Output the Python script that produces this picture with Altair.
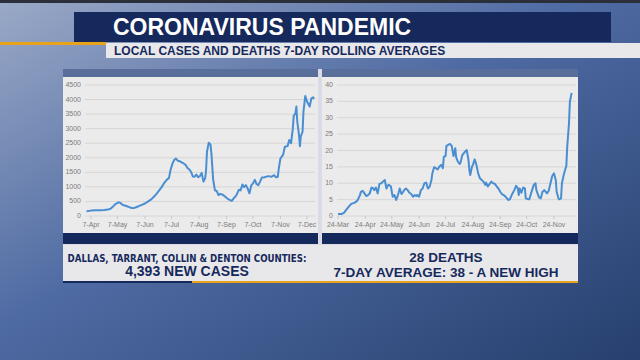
import altair as alt
import pandas as pd

# ---------------- data ----------------
case_dates = [
    "2020-04-02", "2020-04-07", "2020-04-12", "2020-04-17", "2020-04-22", "2020-04-26", "2020-04-29",
    "2020-05-02", "2020-05-05", "2020-05-08", "2020-05-10", "2020-05-13", "2020-05-16", "2020-05-19",
    "2020-05-22", "2020-05-25", "2020-05-28", "2020-05-31", "2020-06-04", "2020-06-07", "2020-06-11",
    "2020-06-14", "2020-06-17", "2020-06-20", "2020-06-23", "2020-06-26", "2020-06-29", "2020-07-02",
    "2020-07-04", "2020-07-06", "2020-07-08", "2020-07-10", "2020-07-12", "2020-07-14", "2020-07-17",
    "2020-07-20", "2020-07-23", "2020-07-25", "2020-07-27", "2020-07-29", "2020-07-31", "2020-08-02",
    "2020-08-04", "2020-08-06", "2020-08-08", "2020-08-10", "2020-08-12", "2020-08-14", "2020-08-15",
    "2020-08-16", "2020-08-18", "2020-08-20", "2020-08-21", "2020-08-23", "2020-08-25", "2020-08-27",
    "2020-08-29", "2020-08-31", "2020-09-02", "2020-09-05", "2020-09-08", "2020-09-10", "2020-09-13",
    "2020-09-15", "2020-09-18", "2020-09-21", "2020-09-23", "2020-09-25", "2020-09-27", "2020-09-29",
    "2020-10-01", "2020-10-03", "2020-10-05", "2020-10-07", "2020-10-09", "2020-10-11", "2020-10-13",
    "2020-10-15", "2020-10-17", "2020-10-20", "2020-10-24", "2020-10-28", "2020-10-31", "2020-11-02",
    "2020-11-04", "2020-11-05", "2020-11-07", "2020-11-10", "2020-11-12", "2020-11-15", "2020-11-17",
    "2020-11-19", "2020-11-21", "2020-11-22", "2020-11-24", "2020-11-25", "2020-11-26", "2020-11-28",
    "2020-11-29", "2020-11-30", "2020-12-02", "2020-12-03", "2020-12-05", "2020-12-07", "2020-12-10",
    "2020-12-12", "2020-12-14", "2020-12-15",
]
case_values = [
    160, 185, 195, 200, 205, 220, 250,
    330, 420, 470, 450, 380, 350, 320,
    280, 270, 300, 340, 390, 430, 510,
    570, 660, 760, 880, 1000, 1150, 1260,
    1300, 1600, 1800, 1930, 1970, 1900, 1870,
    1820, 1750, 1650, 1600, 1520, 1360, 1350,
    1420, 1330, 1370, 1480, 1180, 1300, 1580,
    2200, 2520, 2450, 2150, 1250, 880, 860,
    720, 760, 740, 680, 600, 560, 520,
    600, 700, 900, 880, 1080, 990, 1060,
    940, 780, 1050, 1120, 1240, 1100, 1060,
    1180, 1320, 1330, 1370, 1350, 1400, 1330,
    1340, 1600, 1980, 2100, 2380, 2400, 2610,
    2500, 3010, 3440, 3530, 3760, 3240, 2780,
    2400, 2730, 2900, 3580, 4120, 3930, 3760,
    4040, 4080, 4030,
]

death_dates = [
    "2020-03-24", "2020-03-28", "2020-03-31", "2020-04-02", "2020-04-05", "2020-04-08", "2020-04-12",
    "2020-04-15", "2020-04-18", "2020-04-19", "2020-04-21", "2020-04-23", "2020-04-25", "2020-04-27",
    "2020-04-29", "2020-05-01", "2020-05-03", "2020-05-04", "2020-05-06", "2020-05-08", "2020-05-10",
    "2020-05-12", "2020-05-14", "2020-05-16", "2020-05-18", "2020-05-20", "2020-05-21", "2020-05-23",
    "2020-05-25", "2020-05-27", "2020-05-29", "2020-05-31", "2020-06-02", "2020-06-04", "2020-06-06",
    "2020-06-07", "2020-06-09", "2020-06-11", "2020-06-13", "2020-06-15", "2020-06-17", "2020-06-19",
    "2020-06-21", "2020-06-22", "2020-06-24", "2020-06-26", "2020-06-28", "2020-06-30", "2020-07-02",
    "2020-07-04", "2020-07-06", "2020-07-08", "2020-07-09", "2020-07-11", "2020-07-13", "2020-07-15",
    "2020-07-17", "2020-07-19", "2020-07-21", "2020-07-22", "2020-07-24", "2020-07-25", "2020-07-27",
    "2020-07-29", "2020-07-31", "2020-08-02", "2020-08-04", "2020-08-05", "2020-08-07", "2020-08-09",
    "2020-08-10", "2020-08-12", "2020-08-14", "2020-08-16", "2020-08-17", "2020-08-19", "2020-08-20",
    "2020-08-21", "2020-08-23", "2020-08-24", "2020-08-26", "2020-08-28", "2020-08-30", "2020-09-01",
    "2020-09-03", "2020-09-05", "2020-09-07", "2020-09-08", "2020-09-10", "2020-09-12", "2020-09-14",
    "2020-09-16", "2020-09-18", "2020-09-20", "2020-09-22", "2020-09-24", "2020-09-26", "2020-09-28",
    "2020-09-30", "2020-10-03", "2020-10-05", "2020-10-07", "2020-10-10", "2020-10-12", "2020-10-14",
    "2020-10-15", "2020-10-16", "2020-10-18", "2020-10-20", "2020-10-22", "2020-10-23", "2020-10-26",
    "2020-10-27", "2020-10-29", "2020-11-01", "2020-11-03", "2020-11-04", "2020-11-07", "2020-11-09",
    "2020-11-11", "2020-11-13", "2020-11-16", "2020-11-18", "2020-11-20", "2020-11-22", "2020-11-24",
    "2020-11-26", "2020-11-27", "2020-11-29", "2020-11-30", "2020-12-02", "2020-12-03", "2020-12-05",
    "2020-12-06", "2020-12-08", "2020-12-09", "2020-12-11", "2020-12-12", "2020-12-14",
]
death_values = [
    0.6, 0.6, 1.0, 1.8, 2.8, 3.7, 4.1,
    4.7, 6.4, 7.4, 7.7, 6.9, 6.1, 6.4,
    6.9, 8.7, 8.4, 7.9, 8.7, 6.9, 9.8,
    10.0, 10.5, 11.0, 8.4, 9.5, 9.5, 9.0,
    5.9, 6.4, 4.9, 6.4, 8.4, 6.7, 7.4,
    7.9, 8.4, 7.9, 7.1, 6.7, 5.9, 6.4,
    6.1, 6.4, 5.9, 7.9, 8.4, 10.0, 10.2,
    8.4, 9.0, 11.0, 13.0, 14.9, 14.6, 14.2,
    15.1, 15.6, 14.6, 18.1, 18.3, 21.4, 21.7,
    22.0, 21.4, 18.3, 20.7, 17.9, 16.6, 15.9,
    16.3, 18.6, 19.3, 19.9, 20.1, 17.1, 14.0,
    12.5, 15.1, 15.6, 17.3, 15.6, 13.0, 11.5,
    11.0, 10.5, 9.5, 10.2, 9.0, 9.8, 10.5,
    10.0, 9.8, 9.0, 8.4, 7.4, 6.7, 6.4,
    5.9, 4.9, 5.1, 6.4, 7.9, 9.2, 8.4,
    6.4, 8.4, 7.1, 8.7, 8.4, 5.4, 5.1,
    5.1, 6.9, 9.5, 10.0, 7.9, 5.7, 5.4,
    7.4, 7.9, 6.9, 7.7, 10.0, 12.2, 13.0,
    11.0, 7.4, 5.4, 5.1, 5.4, 10.0, 12.5,
    13.5, 15.3, 21.2, 28.3, 34.9, 37.6,
]

case_ticks = [0, 500, 1000, 1500, 2000, 2500, 3000, 3500, 4000, 4500]
death_ticks = [0, 5, 10, 15, 20, 25, 30, 35, 40]
case_month_dates = ["2020-04-07", "2020-05-07", "2020-06-07", "2020-07-07", "2020-08-07",
                    "2020-09-07", "2020-10-07", "2020-11-07", "2020-12-07"]
case_month_labels = ["7-Apr", "7-May", "7-Jun", "7-Jul", "7-Aug", "7-Sep", "7-Oct", "7-Nov", "7-Dec"]
death_month_dates = ["2020-03-24", "2020-04-24", "2020-05-24", "2020-06-24", "2020-07-24",
                     "2020-08-24", "2020-09-24", "2020-10-24", "2020-11-24"]
death_month_labels = ["24-Mar", "24-Apr", "24-May", "24-Jun", "24-Jul", "24-Aug", "24-Sep", "24-Oct", "24-Nov"]

title_text = "CORONAVIRUS PANDEMIC"
subtitle_text = "LOCAL CASES AND DEATHS 7-DAY ROLLING AVERAGES"
left_lines = ["DALLAS, TARRANT, COLLIN & DENTON COUNTIES:", "4,393 NEW CASES"]
right_lines = ["28 DEATHS", "7-DAY AVERAGE: 38 - A NEW HIGH"]

# ---------------- styling ----------------
NAVY = "#16295c"
ORANGE = "#e9a21b"
LIGHT = "#e8e8ea"
LINE = "#4a8ed2"
GRID = "#d6d6d6"
TICKTXT = "#7c7c7c"
FONT = "Liberation Sans"
CONDENSED = "DejaVu Sans Condensed"

one = pd.DataFrame({"k": [0]})


def box(x1, x2, y1, y2, color, opacity=1.0):
    return alt.Chart(one).mark_rect(color=color, opacity=opacity).encode(
        x=alt.value(x1), x2=alt.value(x2), y=alt.value(y1), y2=alt.value(y2))


def label(txt, x, y, size, color, align="left", font=FONT, weight="bold"):
    return alt.Chart(one).mark_text(
        text=txt, align=align, baseline="alphabetic", fontSize=size,
        font=font, fontWeight=weight, color=color).encode(x=alt.value(x), y=alt.value(y))


bg = alt.Chart(one).mark_rect(
    fill=alt.LinearGradient(
        gradient="linear",
        stops=[alt.GradientStop(offset=0, color="#9aa9c6"),
               alt.GradientStop(offset=0.45, color="#4f6ba3"),
               alt.GradientStop(offset=1, color="#263f6e")],
        x1=0, y1=0, x2=1, y2=1)
).encode(x=alt.value(0), x2=alt.value(640), y=alt.value(0), y2=alt.value(360))

decor = [
    bg,
    box(0, 640, 0, 3, "#2b2f3a"),
    box(74, 611, 12, 42, NAVY),
    box(0, 106, 42, 45, ORANGE),
    box(106, 640, 43, 58, LIGHT),
    label(title_text, 113, 34.5, 23, "white"),
    label(subtitle_text, 114, 55, 12, NAVY),
    # panel block
    box(63, 578, 69, 283, "#d9dce4"),
    box(63, 318, 69, 77, "#4a6292", 0.9),
    box(322, 578, 69, 77, "#4a6292", 0.9),
    box(63, 318, 77, 233, "#ebebeb"),
    box(322, 578, 77, 233, "#ebebeb"),
    box(63, 318, 233, 244, NAVY),
    box(322, 578, 233, 244, NAVY),
    box(63, 578, 245, 281, LIGHT),
    box(63, 192, 281, 283, NAVY),
    box(192, 578, 281, 283, ORANGE),
    label(left_lines[0], 187, 261.5, 9.6, NAVY, align="center", font=CONDENSED),
    label(left_lines[1], 187, 276, 14, NAVY, align="center"),
    label(right_lines[0], 446, 262, 13.5, NAVY, align="center"),
    label(right_lines[1], 446, 276.5, 13.5, NAVY, align="center"),
]


def panel(dates, values, ticks, mdates, mlabels, dmin, dmax, xr, ymax, gx1, gx2, ylab_x):
    xs = alt.Scale(type="utc", domain=[dmin, dmax], range=xr)
    ys = alt.Scale(domain=[0, ymax], range=[216, 85], nice=False, zero=False)
    df = pd.DataFrame({"date": dates, "value": values})
    gdf = pd.DataFrame({"v": ticks, "lab": [str(t) for t in ticks]})
    mdf = pd.DataFrame({"date": mdates, "lab": mlabels})
    grid = alt.Chart(gdf).mark_rule(color=GRID, strokeWidth=1).encode(
        y=alt.Y("v:Q", scale=ys, axis=None), x=alt.value(gx1), x2=alt.value(gx2))
    ylab = alt.Chart(gdf).mark_text(align="right", baseline="middle", fontSize=7, font=FONT,
                                    color=TICKTXT).encode(
        y=alt.Y("v:Q", scale=ys, axis=None), x=alt.value(ylab_x), text="lab:N")
    ticks_m = alt.Chart(mdf).mark_rule(color="#c8c8c8", strokeWidth=1).encode(
        x=alt.X("date:T", scale=xs, axis=None), y=alt.value(216), y2=alt.value(219))
    xlab = alt.Chart(mdf).mark_text(align="center", baseline="middle", fontSize=7, font=FONT,
                                    color=TICKTXT).encode(
        x=alt.X("date:T", scale=xs, axis=None), y=alt.value(224.5), text="lab:N")
    line = alt.Chart(df).mark_line(color=LINE, strokeWidth=2, strokeJoin="round").encode(
        x=alt.X("date:T", scale=xs, axis=None), y=alt.Y("value:Q", scale=ys, axis=None))
    return alt.layer(grid, ylab, ticks_m, xlab, line)


cases = panel(case_dates, case_values, case_ticks, case_month_dates, case_month_labels,
              alt.DateTime(year=2020, month=4, date=7, utc=True),
              alt.DateTime(year=2020, month=12, date=7, utc=True),
              [91, 307], 4500, 85, 315, 81)
deaths = panel(death_dates, death_values, death_ticks, death_month_dates, death_month_labels,
               alt.DateTime(year=2020, month=3, date=24, utc=True),
               alt.DateTime(year=2020, month=11, date=24, utc=True),
               [338, 554], 40, 337, 576, 333)

chart = alt.layer(*decor, cases, deaths).resolve_scale(
    x="independent", y="independent"
).properties(
    width=640, height=360, padding=0, autosize="none", background="#2a3f6a"
).configure_view(strokeWidth=0)

chart.save("out.html", embed_options={"renderer": "svg", "actions": False})
